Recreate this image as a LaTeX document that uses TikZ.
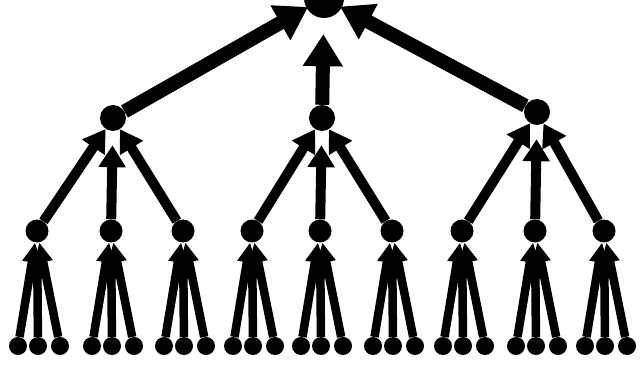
\documentclass[tikz,border=0pt]{standalone}
\usetikzlibrary{arrows.meta}
\begin{document}
\begin{tikzpicture}[x=1pt,y=-1pt,
  dot/.style={circle,fill=black,inner sep=0pt,minimum size=#1},
  e1/.style={line width=14pt,-{Triangle[length=32pt,width=38pt]},shorten >=-2pt},
  e2/.style={line width=10pt,-{Triangle[length=22pt,width=26pt]},shorten >=0pt},
  e3/.style={line width=8.5pt,-{Triangle[length=20pt,width=18pt]},shorten >=0pt},
  mid/.style={shorten >=#1}]
\useasboundingbox (0,0) rectangle (644,371);
\node[dot=40pt] (r) at (324,-2) {};
\node[dot=26pt] (a) at (113,118) {};
\node[dot=26pt] (b) at (322,118) {};
\node[dot=26pt] (c) at (537,112) {};
\foreach \n/\x in {a1/37,a2/111,a3/183,b1/252,b2/320,b3/392,c1/462,c2/535,c3/604}{
  \node[dot=23pt] (\n) at (\x,231) {};
}
\foreach \n/\x in {a1/37,a2/111,a3/183,b1/252,b2/320,b3/392,c1/462,c2/535,c3/604}{
  \node[dot=18pt] (\n l) at (\x-19,346) {};
  \node[dot=18pt] (\n m) at (\x+1,346) {};
  \node[dot=18pt] (\n r) at (\x+23,346) {};
  \draw[e3] (\n l) -- (\n);
  \draw[e3,mid=16pt] (\n m) -- (\n);
  \draw[e3] (\n r) -- (\n);
}
\foreach \p in {a,b,c}{
  \draw[e2] (\p1) -- (\p);
  \draw[e2,mid=14pt] (\p2) -- (\p);
  \draw[e2] (\p3) -- (\p);
}
\draw[e1] (a) -- (r);
\draw[e1,mid=16pt] (b) -- (r);
\draw[e1] (c) -- (r);
\end{tikzpicture}
\end{document}
